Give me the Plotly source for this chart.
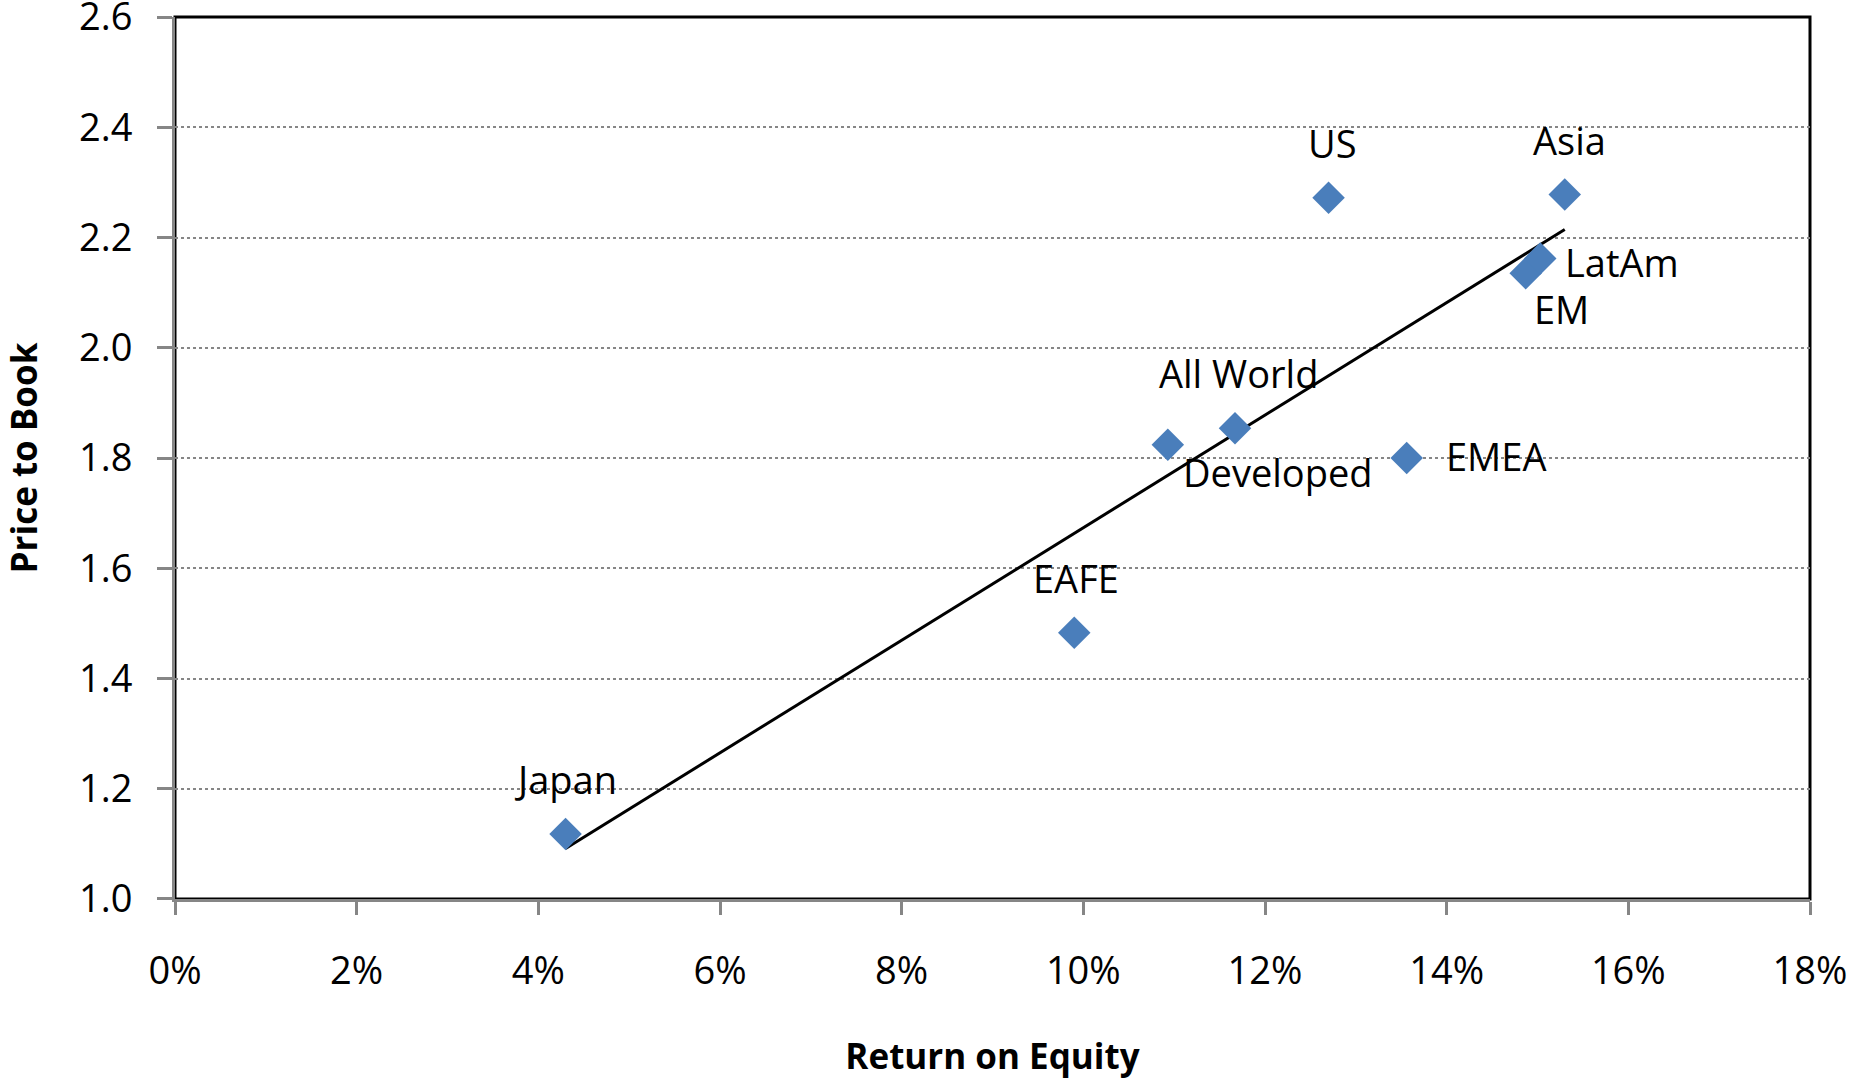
import numpy as np
import plotly.graph_objects as go

# ---- data ----
regions = ["Japan", "EAFE", "Developed", "All World", "US", "EMEA", "EM", "LatAm", "Asia"]
roe = [0.0430, 0.0990, 0.1093, 0.1167, 0.1270, 0.1356, 0.1487, 0.1503, 0.1530]
price_to_book = [1.118, 1.483, 1.824, 1.854, 2.272, 1.800, 2.135, 2.162, 2.278]

x_ticks = [0, 0.02, 0.04, 0.06, 0.08, 0.10, 0.12, 0.14, 0.16, 0.18]
y_ticks = [1.0, 1.2, 1.4, 1.6, 1.8, 2.0, 2.2, 2.4, 2.6]
y_tick_text = [f"{v:.1f}" for v in y_ticks]

# label offsets in pixels (xshift, yshift)
label_offsets = {
    "Japan": (0, 55), "EAFE": (2, 55), "Developed": (110, -27), "All World": (3, 55),
    "US": (4, 55), "EMEA": (89, 2), "EM": (36, -36), "LatAm": (82, -4), "Asia": (5, 55),
}

FONT = "Open Sans, DejaVu Sans, sans-serif"
BLUE = "#4A7EBB"
GRAY = "#868686"

# linear trendline (least squares) over the data range
slope, intercept = np.polyfit(roe, price_to_book, 1)
tx = [min(roe), max(roe)]
ty = [slope * v + intercept for v in tx]

fig = go.Figure()
fig.add_trace(go.Scatter(
    x=tx, y=ty, mode="lines", line=dict(color="black", width=3),
    hoverinfo="skip", showlegend=False))
fig.add_trace(go.Scatter(
    x=roe, y=price_to_book, mode="markers", text=regions,
    marker=dict(symbol="diamond", size=25, color=BLUE, line=dict(width=0)),
    showlegend=False))

for name, xv, yv in zip(regions, roe, price_to_book):
    dx, dy = label_offsets[name]
    fig.add_annotation(x=xv, y=yv, xref="x", yref="y", text=name, showarrow=False,
                       xshift=dx, yshift=dy, font=dict(family=FONT, size=38, color="black"))

# plot-area border (black), axes drawn in gray on top
fig.add_shape(type="rect", xref="paper", yref="paper", x0=0, y0=0, x1=1, y1=1,
              line=dict(color="black", width=3), layer="below")

fig.update_xaxes(
    range=[0, 0.18], tickvals=x_ticks, tickformat=".0%",
    showgrid=False, zeroline=False, automargin=False,
    showline=True, linecolor=GRAY, linewidth=3,
    ticks="outside", ticklen=13, tickwidth=3, tickcolor=GRAY,
    ticklabelstandoff=23, ticklabeloverflow="allow",
    tickfont=dict(family=FONT, size=38, color="black"),
    title=dict(text="<b>Return on Equity</b>", standoff=51,
               font=dict(family=FONT, size=35, color="black")),
)
fig.update_yaxes(
    range=[0.99999, 2.60001], tickvals=y_ticks, ticktext=y_tick_text,
    showgrid=True, gridcolor=GRAY, gridwidth=2, griddash="dot",
    zeroline=False, automargin=False,
    showline=True, linecolor=GRAY, linewidth=3,
    ticks="outside", ticklen=15, tickwidth=3, tickcolor=GRAY,
    ticklabelstandoff=17, ticklabeloverflow="allow",
    tickfont=dict(family=FONT, size=38, color="black"),
    title=dict(text="<b>Price to Book</b>", standoff=38,
               font=dict(family=FONT, size=35, color="black")),
)

fig.update_layout(
    width=1855, height=1084,
    margin=dict(l=175, r=45, t=17, b=185),
    plot_bgcolor="white", paper_bgcolor="white",
    font=dict(family=FONT, color="black"),
)

# remove the default page margin so the figure fills the window exactly
fig.write_html("out.html", config={"displayModeBar": False},
               post_script="document.body.style.margin='0';")
